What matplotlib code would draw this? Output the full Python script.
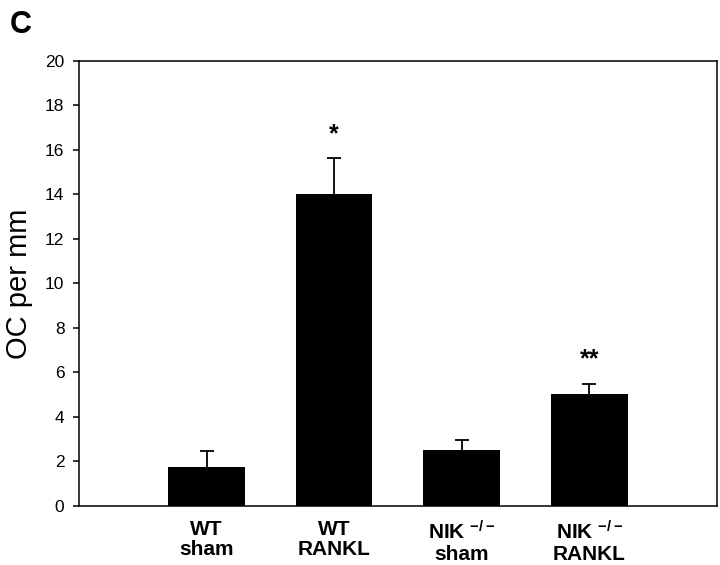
import numpy as np
import matplotlib
matplotlib.use("Agg")
import matplotlib.pyplot as plt

plt.rcParams['font.family'] = ['Liberation Sans', 'DejaVu Sans']
plt.rcParams['mathtext.fontset'] = 'custom'
plt.rcParams['mathtext.rm'] = 'Liberation Sans:bold'
plt.rcParams['mathtext.it'] = 'Liberation Sans:bold:italic'
plt.rcParams['mathtext.bf'] = 'Liberation Sans:bold'

# data
groups = ['WT\nsham', 'WT\nRANKL', 'NIK $^{-/-}$\nsham', 'NIK $^{-/-}$\nRANKL']
means = [1.77, 14.0, 2.52, 5.03]
errs = [0.72, 1.62, 0.45, 0.47]
stars = ['', '*', '', '**']

x = np.arange(len(groups))

fig = plt.figure(figsize=(7.2, 5.65), dpi=100)
ax = fig.add_axes([0.1097, 0.1044, 0.886, 0.788])

ax.bar(x, means, width=0.6, color='black', zorder=2)
eb = ax.errorbar(x, means, yerr=[np.zeros(len(errs)), errs], fmt='none',
                 ecolor='black', elinewidth=1.3, capsize=5, capthick=1.3, zorder=1)
eb[1][0].set_visible(False)  # no lower caps

for xi, m, e, s in zip(x, means, errs, stars):
    if s:
        ax.text(xi, m + e + 0.55, s, ha='center', va='bottom',
                fontsize=18, fontweight='bold')

ax.set_xlim(-1, 4)
ax.set_ylim(0, 20)
ax.set_yticks(np.arange(0, 21, 2))
ax.set_xticks(x)
ax.set_xticklabels(groups, fontsize=15, fontweight='bold', linespacing=1.1)
ax.tick_params(axis='x', length=0, pad=10)
ax.tick_params(axis='y', direction='out', length=4.5, width=1.1, labelsize=12.5, pad=6)
for sp in ax.spines.values():
    sp.set_linewidth(1.1)

ax.set_ylabel('OC per mm', fontsize=21, labelpad=9)

fig.text(0.013, 0.982, 'C', fontsize=22, fontweight='bold', va='top', ha='left')

fig.savefig('out.png', dpi=100)
